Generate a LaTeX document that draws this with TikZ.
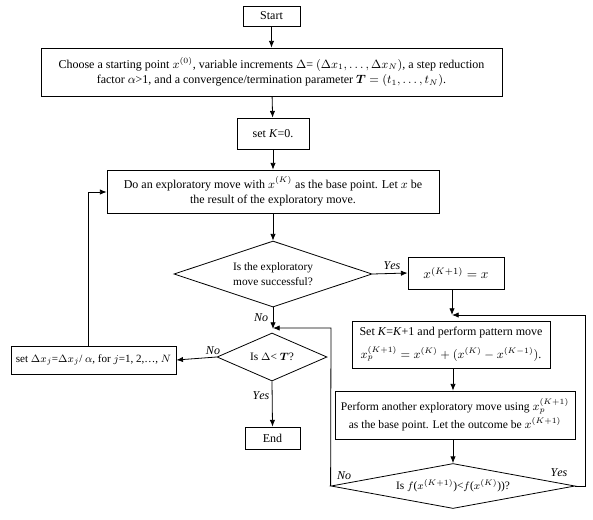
\documentclass[tikz,border=0pt]{standalone}
\usepackage{fontspec}
\setmainfont{Liberation Serif}
\usepackage{amsmath}
\usetikzlibrary{shapes.geometric,arrows.meta,calc}
\begin{document}
\begin{tikzpicture}[x=0.75pt,y=-0.75pt,
  sz/.style 2 args={minimum width=#1*0.75pt, minimum height=#2*0.75pt},
  box/.style={draw, line width=0.6pt, align=center, inner sep=0.5pt, font=\fontsize{9}{11.5}\selectfont},
  dia/.style={draw, line width=0.6pt, shape=diamond, inner sep=0pt},
  dtext/.style={align=center, font=\fontsize{8.5}{11}\selectfont},
  lbl/.style={font=\fontsize{9}{10}\selectfont, inner sep=0pt},
  conn/.style={line width=0.6pt},
  arr/.style={conn, -{Latex[length=5pt,width=4pt]}}
]
\useasboundingbox (0,0) rectangle (593,519);

\node[box, sz={57}{20}] (start) at (271.5,16) {Start};
\node[box, sz={461}{48}] (choose) at (271.5,72)
  {Choose a starting point $x^{(0)}$, variable increments $\Delta$= $(\Delta x_1,\dots,\Delta x_N)$, a step reduction\\
   factor $\alpha$>1, and a convergence/termination parameter $\boldsymbol{T}=(t_1,\dots,t_N)$.};
\node[box, sz={72}{31}] (setk) at (273,133.5) {set \textit{K}=0.};
\node[box, sz={332}{43}] (explore) at (273,191.5)
  {Do an exploratory move with $x^{(K)}$ as the base point. Let $x$ be\\ the result of the exploratory move.};
\node[dia, sz={198}{66}] (d1) at (273,274) {};
\node[dtext] (d1t) at (d1.center) {Is the exploratory\\ move successful?};
\node[box, sz={96}{32}, font=\fontsize{10}{12}\selectfont] (xk1) at (456,273) {$x^{(K+1)}=x$};
\node[box, sz={198}{47}] (pat) at (451,344.5)
  {Set \textit{K}=\textit{K}+1 and perform pattern move\\[5.5pt]
   {\fontsize{9}{11}\selectfont $x_p^{(K+1)}=x^{(K)}+(x^{(K)}-x^{(K-1)})$.}};
\node[box, sz={240}{48}, font=\fontsize{8.7}{11}\selectfont] (box2) at (455,415)
  {Perform another exploratory move using $x_p^{(K+1)}$\\[2.5pt] as the base point. Let the outcome be $x^{(K+1)}$};
\node[dia, sz={244}{45}] (d2) at (453,486) {};
\node[dtext] (d2t) at (d2.center) {Is $f$($x^{(K+1)}$)<$f$($x^{(K)}$))?};
\node[dia, sz={110}{48}] (d3) at (272,357) {};
\node[dtext] (d3t) at (d3.center) {Is $\Delta$< $\boldsymbol{T}$?};
\node[box, sz={165}{28}, font=\fontsize{8.3}{11}\selectfont] (setd) at (93.5,360)
  {set $\Delta x_j$=$\Delta x_j$/ $\alpha$, for $j$=1, 2,\dots, $N$};
\node[box, sz={55}{22}] (endn) at (272.5,438) {End};

\coordinate (j1) at (452,315);
\coordinate (r1) at (585,486);
\coordinate (r2) at (585,315);
\coordinate (j2) at (273,329);
\coordinate (l1) at (331,328);
\coordinate (lp) at (88,192);

\draw[arr] (start) -- (choose);
\draw[arr] (choose) -- (setk);
\draw[arr] (setk) -- (explore);
\draw[arr] (explore) -- (d1);
\draw[arr] (d1.east) -- (xk1.west);
\draw[arr] (xk1.south -| j1) -- (j1);
\draw[arr] (d2.east) -- (r1) -- (r2) -- (j1);
\draw[arr] (pat.south -| 453,0) -- (box2.north -| 453,0);
\draw[arr] (box2.south -| d2.north) -- (d2.north);
\draw[arr] (d1.south) -- (j2);
\draw[arr] (d2.west) -- (l1) -- (l1 -| j2);
\draw[arr] (d3.west) -- (setd.east);
\draw[arr] (setd.north -| lp) -- (lp) -- (explore.west |- lp);
\draw[arr] (d3.south) -- (endn.north);

\node[lbl] (yes1) at (392,266) {$\mathit{Yes}$};
\node[lbl] (no1) at (261,318) {$\mathit{No}$};
\node[lbl] (no3) at (213,351) {$\mathit{No}$};
\node[lbl] (yes3) at (261,396) {$\mathit{Yes}$};
\node[lbl] (no2) at (344,476) {$\mathit{No}$};
\node[lbl] (yes2) at (559,473) {$\mathit{Yes}$};
\end{tikzpicture}
\end{document}
